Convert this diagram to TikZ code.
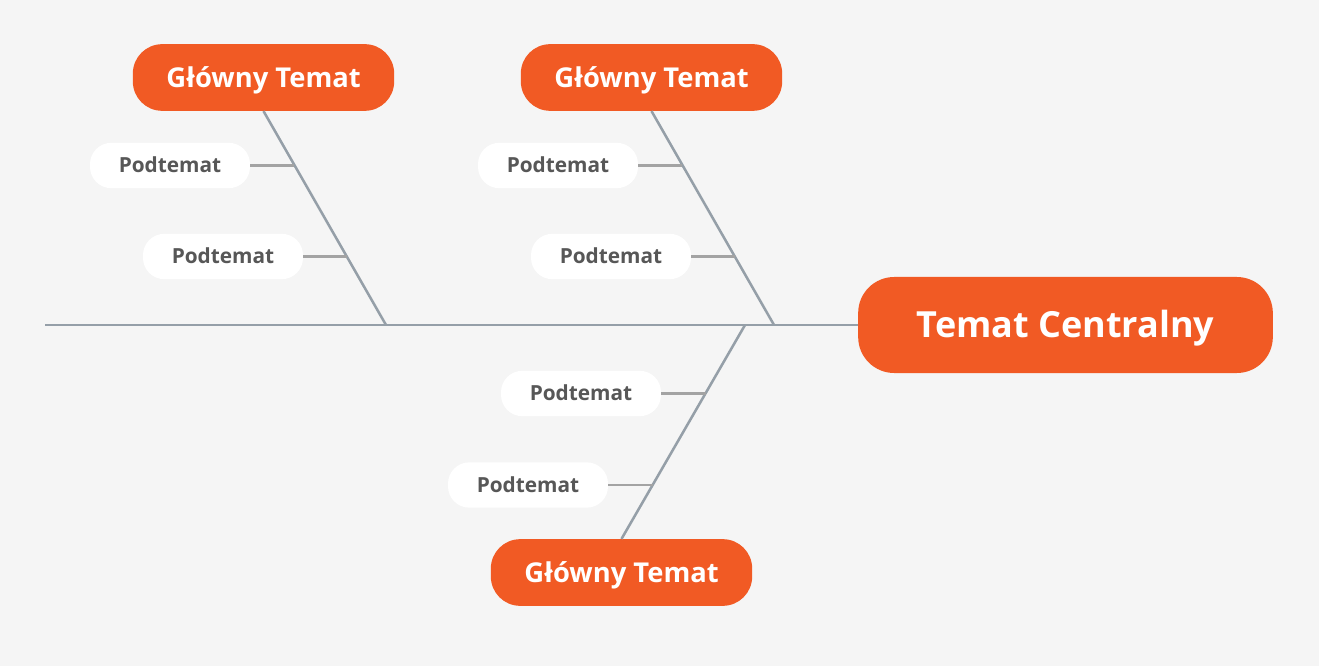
\documentclass[tikz,border=0pt]{standalone}
\usepackage{fontspec}
\setmainfont{Open Sans}
\usepackage{tikz}
\usetikzlibrary{calc}
\definecolor{canvas}{HTML}{F5F5F5}
\definecolor{flame}{HTML}{F15A24}
\definecolor{bone}{HTML}{959FA8}
\definecolor{twig}{HTML}{A3A3A3}
\definecolor{ink}{HTML}{575757}

\begin{document}
\begin{tikzpicture}[x=0.75pt,y=-0.75pt,
  pill/.style={rectangle,inner sep=0pt,text depth=0pt},
  central/.style={pill,fill=flame,text=white,minimum width=311pt,minimum height=72pt,rounded corners=27pt,text height=19.3pt,font=\bfseries\fontsize{27}{32}\selectfont},
  main/.style={pill,fill=flame,text=white,minimum width=196pt,minimum height=50pt,rounded corners=22pt,text height=14.6pt,font=\bfseries\fontsize{20.5}{24}\selectfont},
  sub/.style={pill,fill=white,text=ink,minimum width=120pt,minimum height=34pt,rounded corners=16pt,text height=11.1pt,font=\bfseries\fontsize{15.6}{18}\selectfont},
  spine/.style={draw=bone,line width=1.9pt},
  twigline/.style={draw=twig,line width=1.9pt},
]
\fill[canvas] (0,0) rectangle (1319,666);
\useasboundingbox (0,0) rectangle (1319,666);

% head and spine
\node[central] (ctr) at (1065.5,325) {Temat Centralny};
\coordinate (tail) at (45,325);
\coordinate (j1) at (386,325);
\coordinate (j2) at (774,325);
\coordinate (j3) at (745,325);
\draw[spine] (tail) -- (ctr.west);

% main topics
\node[main] (m1) at (263.5,77.5) {Główny Temat};
\node[main] (m2) at (651.5,77.5) {Główny Temat};
\node[main] (m3) at (621.5,572.5) {Główny Temat};
\draw[spine] (m1.south) -- (j1);
\draw[spine] (m2.south) -- (j2);
\draw[spine] (j3) -- (m3.north);

% subtopics
\node[sub] (s1a) at (170,165.5) {Podtemat};
\node[sub] (s1b) at (223,256.5) {Podtemat};
\node[sub] (s2a) at (558,165.5) {Podtemat};
\node[sub] (s2b) at (611,256.5) {Podtemat};
\node[sub] (s3a) at (581,393.5) {Podtemat};
\node[sub] (s3b) at (528,485) {Podtemat};
\coordinate (b1a) at ($(m1.south)!0.252!(j1)$);
\coordinate (b1b) at ($(m1.south)!0.682!(j1)$);
\coordinate (b2a) at ($(m2.south)!0.252!(j2)$);
\coordinate (b2b) at ($(m2.south)!0.682!(j2)$);
\coordinate (b3a) at ($(j3)!0.318!(m3.north)$);
\coordinate (b3b) at ($(j3)!0.748!(m3.north)$);
\draw[twigline] (s1a.east) -- (s1a.east -| b1a);
\draw[twigline] (s1b.east) -- (s1b.east -| b1b);
\draw[twigline] (s2a.east) -- (s2a.east -| b2a);
\draw[twigline] (s2b.east) -- (s2b.east -| b2b);
\draw[twigline] (s3a.east) -- (s3a.east -| b3a);
\draw[twigline] (s3b.east) -- (s3b.east -| b3b);
\end{tikzpicture}
\end{document}
